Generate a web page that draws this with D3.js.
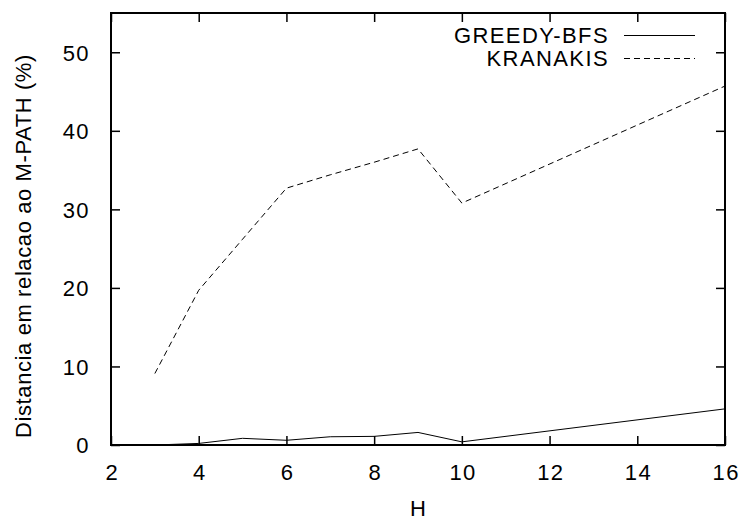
<!DOCTYPE html>
<html>
<head>
<meta charset="utf-8">
<script src="https://cdn.jsdelivr.net/npm/d3@7"></script>
<style>
  html, body { margin: 0; padding: 0; background: #fff; }
  svg text { font-family: "Liberation Sans", Arial, Helvetica, sans-serif; fill: #000; }
</style>
</head>
<body>
<svg id="chart" width="744" height="520"></svg>
<script>
const xTicks = [2, 4, 6, 8, 10, 12, 14, 16];
const yTicks = [0, 10, 20, 30, 40, 50];
const hValues = [3, 4, 5, 6, 7, 8, 9, 10, 16];
const greedyBfs = [0, 0.2, 0.85, 0.6, 1.05, 1.1, 1.6, 0.4, 4.6];
const kranakis = [9.1, 19.7, 26.2, 32.7, 34.4, 36.0, 37.7, 30.8, 45.7];
const seriesNames = ["GREEDY-BFS", "KRANAKIS"];
const xTitle = "H";
const yTitle = "Distancia em relacao ao M-PATH (%)";

const svg = d3.select("#chart");
const mLeft = 111, mRight = 725, mTop = 13, mBottom = 445;
const x = d3.scaleLinear().domain([2, 16]).range([mLeft, mRight]);
const y = d3.scaleLinear().domain([0, 55]).range([mBottom, mTop]);
const fontSize = 22, ls = 1.4;
const tickLen = 9;

const gx = svg.append("g").attr("transform", `translate(0,${mBottom})`)
  .call(d3.axisBottom(x).tickValues(xTicks).tickSize(-tickLen).tickPadding(tickLen + 10).tickFormat(d3.format("d")));
const gxTop = svg.append("g").attr("transform", `translate(0,${mTop})`)
  .call(d3.axisTop(x).tickValues(xTicks).tickSize(-tickLen).tickFormat(""));
const gy = svg.append("g").attr("transform", `translate(${mLeft},0)`)
  .call(d3.axisLeft(y).tickValues(yTicks).tickSize(-tickLen).tickPadding(tickLen + 12).tickFormat(d3.format("d")));
const gyR = svg.append("g").attr("transform", `translate(${mRight},0)`)
  .call(d3.axisRight(y).tickValues(yTicks).tickSize(-tickLen).tickFormat(""));

[gx, gxTop, gy, gyR].forEach(g => {
  g.select(".domain").remove();
  g.attr("font-family", null).attr("font-size", null);
  g.selectAll(".tick line").attr("stroke", "#000").attr("stroke-width", 1.5);
  g.selectAll("text").style("font-size", fontSize + "px").style("letter-spacing", ls + "px");
});
gx.selectAll("text").attr("dy", "0.71em").attr("dx", ls / 2);
gy.selectAll("text").attr("dy", "0.36em");

svg.append("rect").attr("x", mLeft).attr("y", mTop)
  .attr("width", mRight - mLeft).attr("height", mBottom - mTop)
  .attr("fill", "none").attr("stroke", "#000").attr("stroke-width", 2);

const line = d3.line().x((d, i) => x(hValues[i])).y(d => y(d));
svg.append("path").datum(greedyBfs).attr("d", line)
  .attr("fill", "none").attr("stroke", "#000").attr("stroke-width", 1);
svg.append("path").datum(kranakis).attr("d", line)
  .attr("fill", "none").attr("stroke", "#000").attr("stroke-width", 1)
  .attr("stroke-dasharray", "6,4");

const legY = [35.5, 58.5];
const legTextRight = 609;
seriesNames.forEach((name, i) => {
  svg.append("text").attr("x", legTextRight).attr("y", legY[i]).attr("dy", "0.36em")
    .attr("text-anchor", "end").style("font-size", fontSize + "px").style("letter-spacing", ls + "px")
    .text(name);
  svg.append("line").attr("x1", 624).attr("x2", 695).attr("y1", legY[i]).attr("y2", legY[i])
    .attr("stroke", "#000").attr("stroke-width", 1)
    .attr("stroke-dasharray", i === 1 ? "6,4" : null);
});

svg.append("text").attr("x", (mLeft + mRight) / 2).attr("y", 516)
  .attr("text-anchor", "middle").style("font-size", fontSize + "px").text(xTitle);
svg.append("text").attr("transform", `translate(31,246) rotate(-90)`)
  .attr("text-anchor", "middle").style("font-size", fontSize + "px").style("letter-spacing", "0.6px").text(yTitle);
</script>
</body>
</html>
